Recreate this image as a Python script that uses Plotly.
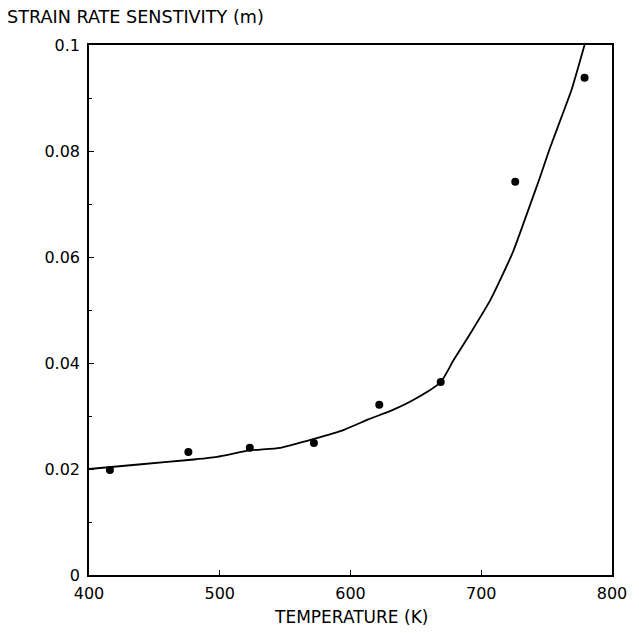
import plotly.graph_objects as go

# measured points (dots)
temp_pts = [416, 476, 523, 572, 622, 669, 726, 779]
m_pts = [0.0198, 0.0232, 0.0240, 0.0249, 0.0321, 0.0364, 0.0742, 0.0938]

# fitted curve
temp_line = [400, 440, 476, 498, 523, 546, 572, 595, 614, 632, 650, 669, 679, 692, 707, 724, 736, 745, 752, 760, 769, 779]
m_line = [0.0200, 0.0209, 0.0217, 0.0223, 0.0235, 0.0240, 0.0257, 0.0274, 0.0294, 0.0311, 0.0333, 0.0364,
          0.0406, 0.0457, 0.0519, 0.0608, 0.0689, 0.0751, 0.0802, 0.0855, 0.0915, 0.1000]

x_ticks = [400, 500, 600, 700, 800]
x_labels = ["400", "500", "600", "700", "800"]
y_ticks = [0, 0.02, 0.04, 0.06, 0.08, 0.1]
y_labels = ["0", "0.02", "0.04", "0.06", "0.08", "0.1"]

FONT = "DejaVu Sans"

fig = go.Figure()
fig.add_trace(go.Scatter(x=temp_line, y=m_line, mode="lines",
                         line=dict(color="black", width=1.8, shape="spline", smoothing=0.5),
                         hoverinfo="skip"))
fig.add_trace(go.Scatter(x=temp_pts, y=m_pts, mode="markers",
                         marker=dict(color="black", size=8)))

fig.update_layout(
    width=639, height=633,
    margin=dict(l=89, r=18, t=45, b=58),
    paper_bgcolor="white", plot_bgcolor="white",
    showlegend=False,
    font=dict(family=FONT, size=16, color="black"),
    xaxis=dict(range=[400, 800], tickvals=x_ticks, ticktext=x_labels,
               ticks="inside", ticklen=5, tickwidth=1, tickcolor="black",
               showline=True, linecolor="black", linewidth=1.5, mirror=True,
               showgrid=False, zeroline=False, ticklabelstandoff=3,
               tickfont=dict(family=FONT, size=16)),
    yaxis=dict(range=[0, 0.1], tickvals=y_ticks, ticktext=y_labels,
               ticks="inside", ticklen=5, tickwidth=1, tickcolor="black",
               minor=dict(dtick=0.01, ticks="inside", ticklen=3, tickcolor="black"),
               showline=True, linecolor="black", linewidth=1.5, mirror=True,
               showgrid=False, zeroline=False, ticklabelstandoff=4,
               tickfont=dict(family=FONT, size=16)),
    annotations=[
        dict(text="STRAIN RATE SENSTIVITY (m)", xref="paper", yref="paper",
             x=-85/532, y=1 + 28/530, xanchor="left", yanchor="middle",
             showarrow=False, font=dict(family=FONT, size=17.6)),
        dict(text="TEMPERATURE (K)", xref="paper", yref="paper",
             x=(355 - 89) / 532, y=-42/530, xanchor="center", yanchor="middle",
             showarrow=False, font=dict(family=FONT, size=17)),
    ],
)

fig.write_html("out.html")
